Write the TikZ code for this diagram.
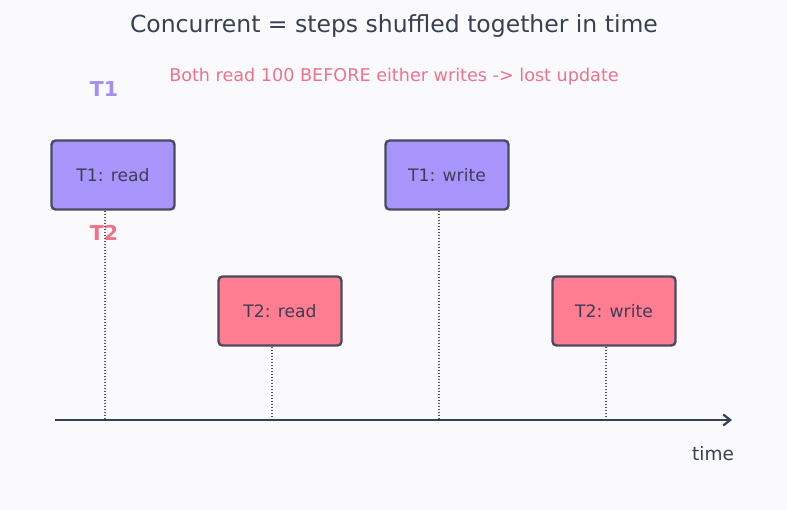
\documentclass[tikz,border=0pt]{standalone}
\usepackage{fontspec}
\setmainfont{DejaVu Sans}
\usetikzlibrary{arrows.meta}
\definecolor{bg}{HTML}{FAFAFD}
\definecolor{ink}{HTML}{374151}
\definecolor{pinkt}{HTML}{F0728A}
\definecolor{purt}{HTML}{A48EF6}
\definecolor{purfill}{HTML}{A895FB}
\definecolor{pinkfill}{HTML}{FF7D91}
\definecolor{boxline}{HTML}{4A4A60}
\definecolor{boxtext}{HTML}{3F3D56}
\definecolor{dotc}{HTML}{555555}
\tikzset{
  x=1pt, y=-1pt,
  evbox/.style={draw=boxline, line width=2.4pt, rounded corners=4pt, minimum width=123pt, minimum height=69pt, inner sep=0pt, text=boxtext, font=\fontsize{17.2}{20}\selectfont},
  t1box/.style={evbox, fill=purfill},
  t2box/.style={evbox, fill=pinkfill},
  tick/.style={draw=dotc, line width=1.2pt, dash pattern=on 1.2pt off 1.8pt},
}
\begin{document}
\begin{tikzpicture}
\fill[bg] (0,0) rectangle (787,510);
\useasboundingbox (0,0) rectangle (787,510);
\node[text=ink, font=\fontsize{23.5}{26}\selectfont] (title) at (394,26) {Concurrent = steps shuffled together in time};
\node[text=pinkt, font=\fontsize{17.6}{20}\selectfont] (sub) at (394,77) {Both read 100 BEFORE either writes -> lost update};
\node[text=purt, font=\fontsize{20.5}{24}\bfseries] (l1) at (104,89) {T1};
\node[text=pinkt, font=\fontsize{20.5}{24}\bfseries] (l2) at (104,233) {T2};
\node[t1box] (a) at (113,175) {T1: read};
\node[t2box] (b) at (280,311) {T2: read};
\node[t1box] (c) at (447,175) {T1: write};
\node[t2box] (d) at (614,311) {T2: write};
\coordinate (s) at (55,420);
\coordinate (e) at (732,420);
\coordinate (ta) at (105,420);
\coordinate (tb) at (272,420);
\coordinate (tc) at (439,420);
\coordinate (td) at (606,420);
\draw[tick] (a.south -| ta) -- (ta);
\draw[tick] (b.south -| tb) -- (tb);
\draw[tick] (c.south -| tc) -- (tc);
\draw[tick] (d.south -| td) -- (td);
\draw[ink, line width=2.2pt, -{Straight Barb[length=7pt, width=11pt, line width=2.2pt]}] (s) -- (e);
\node[text=ink, font=\fontsize{18.5}{22}\selectfont] (time) at (713,454) {time};
\end{tikzpicture}
\end{document}
